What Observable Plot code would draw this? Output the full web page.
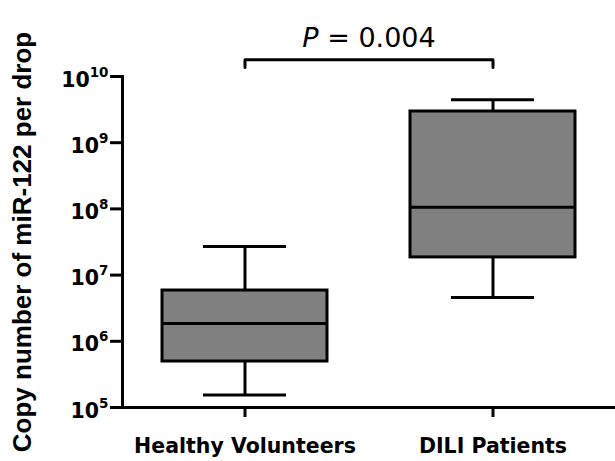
<!DOCTYPE html>
<html><head><meta charset="utf-8">
<script src="https://cdn.jsdelivr.net/npm/d3@7"></script>
<script src="https://cdn.jsdelivr.net/npm/@observablehq/plot@0.6"></script>
<style>body{margin:0;background:#fff}</style>
</head><body><div id="chart"></div>
<script>
const groups = ["Healthy Volunteers", "DILI Patients"];
const whiskerLow = [1.54e5, 4.6e6];
const q1 = [4.95e5, 1.85e7];
const median = [1.86e6, 1.06e8];
const q3 = [5.85e6, 2.96e9];
const whiskerHigh = [2.7e7, 4.45e9];
const yTicks = [1e5, 1e6, 1e7, 1e8, 1e9, 1e10];
const yTitle = "Copy number of miR-122 per drop";
const pLabel = "P = 0.004";
const bracketLevels = [1.37e10, 1.79e10];

const stats = groups.map((g, i) => ({group: g, low: whiskerLow[i], q1: q1[i], median: median[i], q3: q3[i], high: whiskerHigh[i]}));
const bracket = [
  {group: groups[0], y: bracketLevels[0]},
  {group: groups[0], y: bracketLevels[1]},
  {group: groups[1], y: bracketLevels[1]},
  {group: groups[1], y: bracketLevels[0]}
];

const chart = Plot.plot({
  width: 615, height: 461,
  marginLeft: 122, marginRight: 0, marginTop: 76, marginBottom: 54,
  style: {fontFamily: "'DejaVu Sans', sans-serif", background: "white", overflow: "visible", color: "black"},
  x: {type: "band", domain: groups, paddingInner: 0.333, paddingOuter: 0.16, axis: null},
  y: {type: "log", domain: [1e5, 1e10], axis: null},
  marks: [
    Plot.ruleX(stats, {x: "group", y1: "low", y2: "q1", strokeWidth: 3}),
    Plot.ruleX(stats, {x: "group", y1: "q3", y2: "high", strokeWidth: 3}),
    Plot.tickY(stats, {x: "group", y: "low", insetLeft: 41, insetRight: 41, strokeWidth: 3}),
    Plot.tickY(stats, {x: "group", y: "high", insetLeft: 41, insetRight: 41, strokeWidth: 3}),
    Plot.barY(stats, {x: "group", y1: "q1", y2: "q3", fill: "#808080", stroke: "black", strokeWidth: 3}),
    Plot.tickY(stats, {x: "group", y: "median", strokeWidth: 3}),
    Plot.axisX({tickSize: 10, tickPadding: 21, fontSize: 20.5, fontWeight: "bold", strokeWidth: 3, label: null}),
    Plot.axisY({ticks: yTicks, tickSize: 12, tickPadding: 2, tickFormat: d => String(Math.round(Math.log10(d))), fontSize: 20.5, fontWeight: "bold", strokeWidth: 3, label: null}),
    Plot.ruleY([yTicks[0]], {strokeWidth: 3}),
    Plot.frame({anchor: "left", strokeWidth: 3}),
    Plot.line(bracket, {x: "group", y: "y", strokeWidth: 3}),
    Plot.text([pLabel], {frameAnchor: "top", dy: -49, fontSize: 27}),
    Plot.text([yTitle], {frameAnchor: "left", rotate: -90, dx: -110, textAnchor: "middle", lineAnchor: "top", fontSize: 26, fontWeight: "bold", fontFamily: "'Liberation Sans', Arial, sans-serif"})
  ]
});

const root = d3.select(chart);
root.selectAll('g[aria-label="y-axis tick label"] text').each(function() {
  const e = this.textContent;
  const t = d3.select(this);
  t.text(null);
  t.append("tspan").attr("dy", 3.6).text("10");
  t.append("tspan").attr("dy", -10).attr("font-size", 13.5).text(e);
});
root.selectAll("text").filter(function() { return this.textContent === pLabel; }).each(function() {
  const t = d3.select(this);
  t.text(null);
  t.append("tspan").attr("font-style", "italic").text(pLabel.slice(0, 1));
  t.append("tspan").text(pLabel.slice(1));
});
document.getElementById("chart").append(chart);
</script>
</body></html>
